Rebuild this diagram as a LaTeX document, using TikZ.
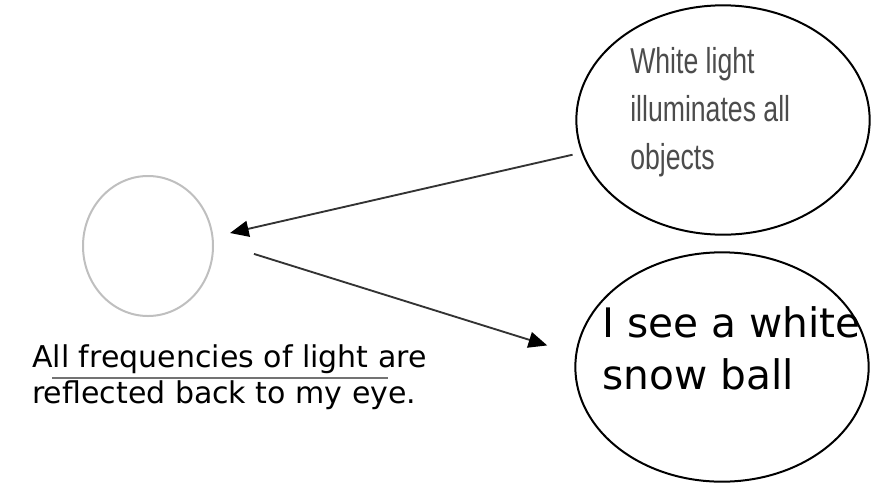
\documentclass[tikz,border=0pt]{standalone}
\usepackage{fontspec}
\setmainfont{DejaVu Sans}
\newfontfamily\thinfont[FakeStretch=0.74]{Liberation Sans}
\usetikzlibrary{arrows.meta,shapes.geometric,positioning}

\begin{document}
\begin{tikzpicture}[
  x=0.75pt, y=-0.75pt,
  bubble/.style={ellipse, draw, line width=1.5pt, minimum width=220pt, minimum height=172pt, inner sep=0pt},
  ray/.style={line width=1.4pt, black!80, -{Triangle[length=14pt,width=12pt,color=black]}},
  words/.style={align=left, anchor=north west, inner sep=0pt}
]
  \useasboundingbox (0,0) rectangle (871,483);
  \node[ellipse, draw=black!25, line width=1.5pt, minimum width=97.5pt, minimum height=105pt] (eye) at (148,246) {};
  \node[bubble] (white) at (723,120) {};
  \node[bubble] (ball) at (722,367) {};
  \node[words, font=\thinfont\fontsize{27}{36}\selectfont, text=black!70] (whitetext) at (630,47) {White light\\illuminates all\\objects};
  \node[words, font=\fontsize{30.5}{39}\selectfont] (balltext) at (602,306) {I see a white\\snow ball};
  \node[words, font=\fontsize{22.5}{27}\selectfont] (reflect) at (32,344) {All frequencies of light are\\reflected back to my eye.};
  \draw[black!55, line width=1pt] (52,378) -- (388,378);
  \draw[ray, shorten <=6.75pt, shorten >=12.75pt] (white.193) -- (eye.8);
  \draw[ray, shorten <=31.5pt, shorten >=22pt] (eye.4) -- (ball.175);
\end{tikzpicture}
\end{document}
